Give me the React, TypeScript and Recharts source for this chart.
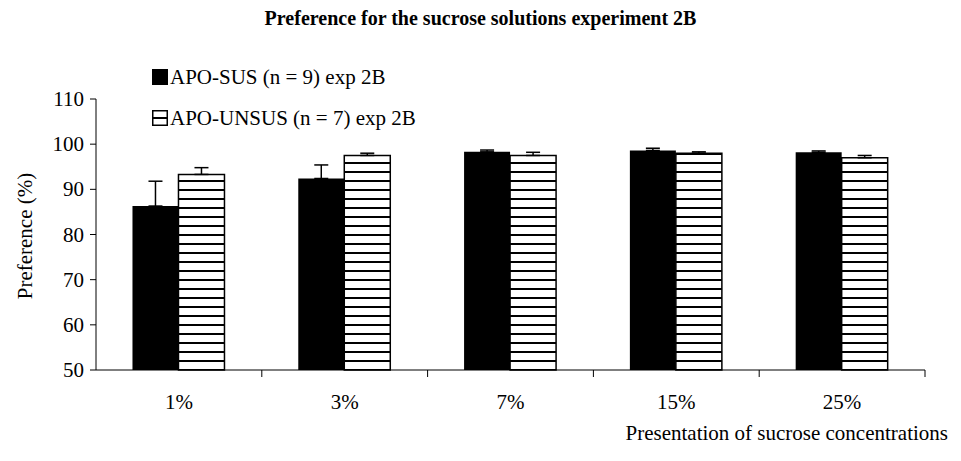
import { Bar, BarChart, ErrorBar, XAxis, YAxis } from "recharts"

const concentrations = ["1%", "3%", "7%", "15%", "25%"]
const susMean = [86.3, 92.4, 98.3, 98.6, 98.2]
const susErr = [5.5, 3.0, 0.4, 0.5, 0.3]
const unsusMean = [93.3, 97.5, 97.5, 98.0, 97.0]
const unsusErr = [1.5, 0.5, 0.7, 0.3, 0.5]
const yTicks = [50, 60, 70, 80, 90, 100, 110]

const data = concentrations.map((name, i) => ({
  name,
  sus: susMean[i],
  susErr: [0, susErr[i]],
  unsus: unsusMean[i],
  unsusErr: [0, unsusErr[i]],
}))

const font = "'Liberation Serif', 'Times New Roman', serif"
const textSize = 21

const CategoryTick = (props: any) => {
  const { x, y, payload } = props
  const off = payload.offset || 0
  return (
    <g>
      <line x1={x + off} y1={y - 8} x2={x + off} y2={y - 1} stroke="#000" strokeWidth={1} />
      <text x={x} y={y + 31} textAnchor="middle" fontSize={textSize} style={{ fontFamily: font }} fill="#000">
        {payload.value}
      </text>
    </g>
  )
}

const ValueTick = (props: any) => {
  const { x, y, payload } = props
  return (
    <text x={x - 4} y={y + 7} textAnchor="end" fontSize={textSize} style={{ fontFamily: font }} fill="#000">
      {payload.value}
    </text>
  )
}

const LegendBox = () => (
  <div style={{ fontFamily: font, fontSize: textSize, color: "#000", lineHeight: "24px" }}>
    <div style={{ display: "flex", alignItems: "center", height: 24 }}>
      <span style={{ width: 16, height: 16, background: "#000", display: "inline-block", marginRight: 2 }} />
      APO-SUS (n = 9) exp 2B
    </div>
    <div style={{ display: "flex", alignItems: "center", height: 24, marginTop: 17 }}>
      <svg width={16} height={16} style={{ marginRight: 2 }}>
        <rect x={0.75} y={0.75} width={14.5} height={14.5} fill="#fff" stroke="#000" strokeWidth={1.5} />
        <line x1={0} y1={8} x2={16} y2={8} stroke="#000" strokeWidth={2} />
      </svg>
      APO-UNSUS (n = 7) exp 2B
    </div>
  </div>
)

export default function App() {
  return (
    <div style={{ position: "absolute", left: 0, top: 0, width: 961, height: 461, background: "#fff" }}>
      <BarChart
        width={961}
        height={461}
        data={data}
        margin={{ top: 99, right: 36, left: 0, bottom: 61 }}
        barCategoryGap="22%"
        barGap={0}
      >
        <defs>
          <pattern id="stripes" patternUnits="userSpaceOnUse" width={9} height={9}>
            <rect x={0} y={0} width={9} height={9} fill="#fff" />
            <rect x={0} y={0} width={9} height={2} fill="#000" />
          </pattern>
        </defs>
        <YAxis
          type="number"
          domain={[50, 110]}
          ticks={yTicks}
          width={96}
          interval={0}
          stroke="#000"
          tickSize={6}
          tick={<ValueTick />}
        />
        <XAxis
          dataKey="name"
          height={30}
          stroke="#000"
          tickLine={false}
          tick={<CategoryTick />}
          interval={0}
        />
        <Bar dataKey="sus" fill="#000" isAnimationActive={false}>
          <ErrorBar dataKey="susErr" stroke="#000" strokeWidth={1.5} width={7} isAnimationActive={false} />
        </Bar>
        <Bar dataKey="unsus" fill="url(#stripes)" stroke="#000" strokeWidth={1.5} isAnimationActive={false}>
          <ErrorBar dataKey="unsusErr" stroke="#000" strokeWidth={1.5} width={7} isAnimationActive={false} />
        </Bar>
      </BarChart>
      <div
        style={{
          position: "absolute",
          top: 7,
          left: 0,
          width: 961,
          textAlign: "center",
          fontFamily: font,
          fontWeight: "bold",
          fontSize: 20,
        }}
      >
        Preference for the sucrose solutions experiment 2B
      </div>
      <div style={{ position: "absolute", left: 152, top: 65, width: 400 }}>
        <LegendBox />
      </div>
      <div
        style={{
          position: "absolute",
          left: 25,
          top: 236,
          transform: "translate(-50%, -50%) rotate(-90deg)",
          whiteSpace: "nowrap",
          fontFamily: font,
          fontSize: textSize,
        }}
      >
        Preference (%)
      </div>
      <div
        style={{
          position: "absolute",
          right: 13,
          top: 421,
          whiteSpace: "nowrap",
          fontFamily: font,
          fontSize: textSize,
        }}
      >
        Presentation of sucrose concentrations
      </div>
    </div>
  )
}
